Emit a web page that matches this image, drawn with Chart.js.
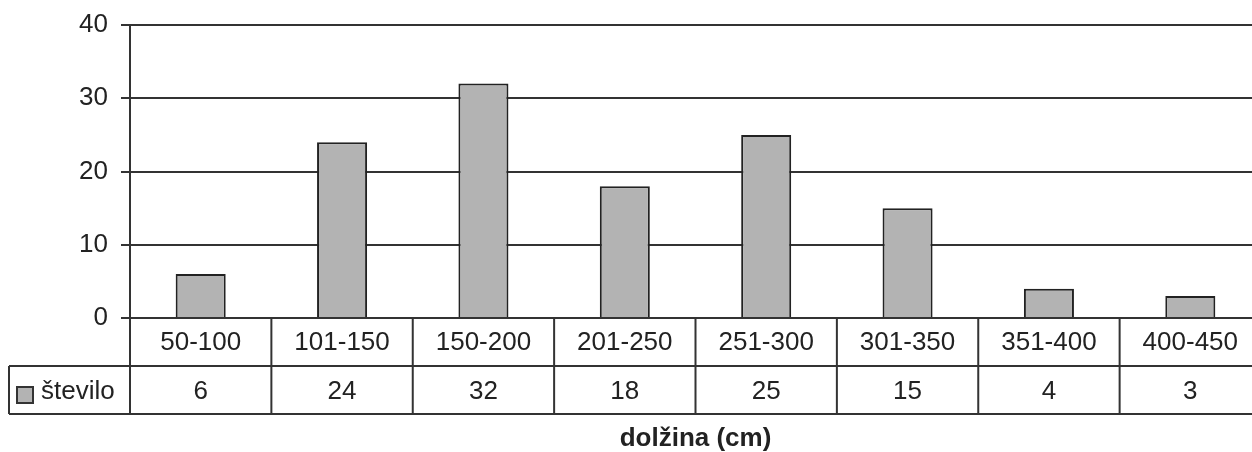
<!DOCTYPE html>
<html>
<head>
<meta charset="utf-8">
<script src="https://cdn.jsdelivr.net/npm/chart.js@4"></script>
<style>
  html, body { margin: 0; padding: 0; background: #fff; overflow: hidden; }
  #wrap { width: 1252px; height: 452px; overflow: hidden; }
</style>
</head>
<body>
<div id="wrap"><canvas id="chart" width="1261" height="452"></canvas></div>
<script>
// ===== DATA =====
const categories = ['50-100', '101-150', '150-200', '201-250', '251-300', '301-350', '351-400', '400-450'];
const stevilo = [6, 24, 32, 18, 25, 15, 4, 3];
const yTicks = [0, 10, 20, 30, 40];
const seriesName = 'število';
const axisTitle = 'dolžina (cm)';

const FONT = "'Liberation Sans', Arial, sans-serif";
const LINE = '#333';
const TEXT = '#222';

// ===== DATA TABLE UNDER THE AXIS =====
const dataTablePlugin = {
  id: 'dataTable',
  afterDraw(chart) {
    const { ctx, chartArea } = chart;
    const x = chart.scales.x;
    const top = chartArea.bottom;
    const rowH = 48;
    const mid = top + rowH;
    const bottom = top + rowH * 2;
    const legendLeft = 9;
    const right = chart.width;

    ctx.save();
    ctx.strokeStyle = LINE;
    ctx.lineWidth = 2;
    ctx.beginPath();
    // horizontal rules
    ctx.moveTo(legendLeft, mid); ctx.lineTo(right, mid);
    ctx.moveTo(legendLeft, bottom); ctx.lineTo(right, bottom);
    // left edges
    ctx.moveTo(chartArea.left, top); ctx.lineTo(chartArea.left, bottom);
    ctx.moveTo(legendLeft, mid); ctx.lineTo(legendLeft, bottom);
    // dividers between categories
    for (let i = 0; i < categories.length - 1; i++) {
      const xd = (x.getPixelForValue(i) + x.getPixelForValue(i + 1)) / 2;
      ctx.moveTo(xd, top); ctx.lineTo(xd, bottom);
    }
    ctx.stroke();

    // legend key
    ctx.fillStyle = '#b3b3b3';
    ctx.fillRect(17, mid + 21, 16, 16);
    ctx.strokeRect(17, mid + 21, 16, 16);

    ctx.fillStyle = TEXT;
    ctx.font = '26px ' + FONT;
    ctx.textBaseline = 'middle';
    ctx.textAlign = 'left';
    ctx.fillText(seriesName, 41, mid + 26);

    // values row
    ctx.textAlign = 'center';
    stevilo.forEach((v, i) => {
      ctx.fillText(String(v), x.getPixelForValue(i), mid + 26);
    });
    ctx.restore();
  }
};

new Chart(document.getElementById('chart'), {
  type: 'bar',
  data: {
    labels: categories,
    datasets: [{
      label: seriesName,
      data: stevilo,
      backgroundColor: '#b3b3b3',
      borderColor: '#222',
      borderWidth: 2,
      categoryPercentage: 1,
      barPercentage: 0.354
    }]
  },
  options: {
    responsive: false,
    animation: false,
    layout: { padding: { top: 25, right: 0, bottom: 0, left: 0 } },
    plugins: {
      legend: { display: false },
      tooltip: { enabled: false }
    },
    scales: {
      x: {
        grid: { display: false, drawTicks: false },
        border: { display: true, color: LINE, width: 2 },
        ticks: {
          color: TEXT,
          padding: 9,
          maxRotation: 0,
          autoSkip: false,
          font: { family: FONT, size: 26 }
        },
        title: {
          display: true,
          text: axisTitle,
          color: TEXT,
          padding: { top: 4, bottom: 0 },
          font: { family: FONT, size: 26, weight: 'bold', lineHeight: 1.0 }
        },
        afterFit(scale) {
          scale.height = 134;
          scale.paddingLeft = 0;
          scale.paddingRight = 0;
        }
      },
      y: {
        min: 0,
        max: 40,
        afterBuildTicks(scale) { scale.ticks = yTicks.map(v => ({ value: v })); },
        grid: { color: LINE, lineWidth: 2, tickLength: 9, drawTicks: true },
        border: { display: true, color: LINE, width: 2 },
        ticks: {
          color: TEXT,
          padding: 13,
          font: { family: FONT, size: 26 }
        },
        afterFit(scale) {
          scale.width = 130;
          scale.paddingTop = 0;
          scale.paddingBottom = 0;
        }
      }
    }
  },
  plugins: [dataTablePlugin]
});
</script>
</body>
</html>
